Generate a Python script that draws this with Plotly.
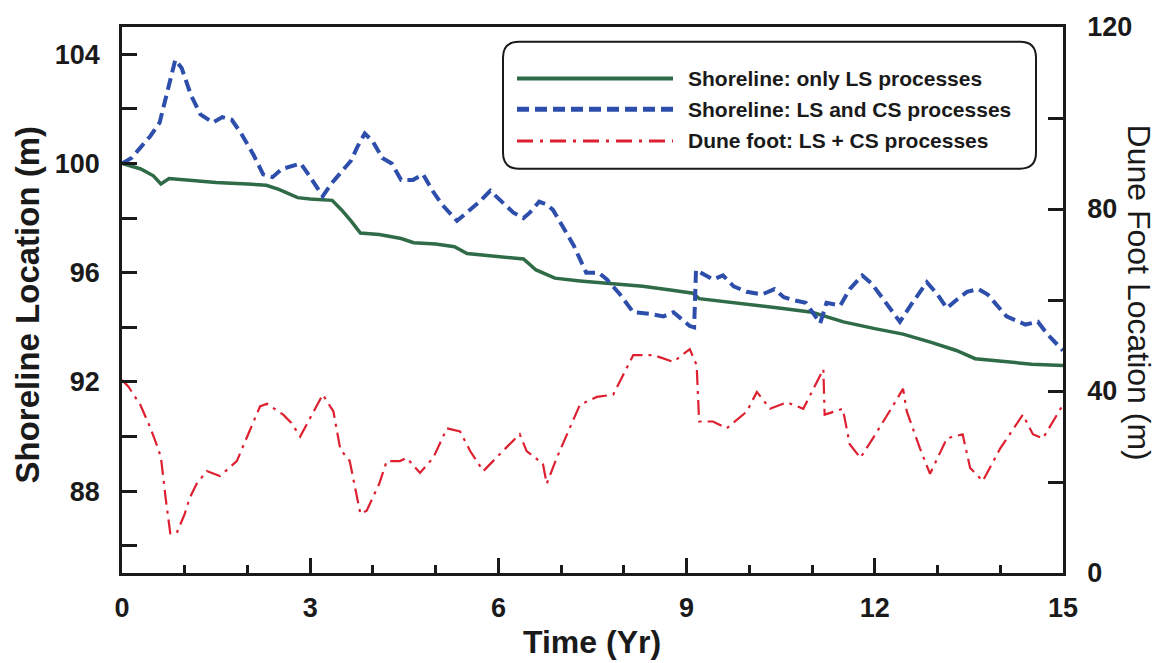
import plotly.graph_objects as go

# ---------------- data ----------------
t_ls = [0.0, 0.3, 0.5, 0.62, 0.75, 1.0, 1.5, 2.0, 2.3, 2.5, 2.8, 3.0, 3.35, 3.5, 3.65, 3.8,
        4.1, 4.45, 4.65, 5.0, 5.3, 5.5, 6.0, 6.4, 6.6, 6.9, 7.3, 7.8, 8.3, 8.8, 9.1, 9.2,
        9.6, 10.0, 10.5, 11.0, 11.5, 12.0, 12.45, 12.9, 13.3, 13.6, 14.0, 14.5, 15.0]
shore_ls = [100.0, 99.8, 99.55, 99.25, 99.45, 99.4, 99.3, 99.25, 99.2, 99.05, 98.75, 98.7, 98.65,
            98.3, 97.9, 97.45, 97.4, 97.25, 97.1, 97.05, 96.95, 96.7, 96.6, 96.5, 96.1, 95.8,
            95.7, 95.6, 95.5, 95.35, 95.25, 95.05, 94.95, 94.85, 94.7, 94.55, 94.2, 93.95,
            93.75, 93.45, 93.15, 92.85, 92.75, 92.65, 92.6]

t_cs = [0.0, 0.15, 0.3, 0.45, 0.6, 0.72, 0.85, 0.95, 1.1, 1.25, 1.45, 1.6, 1.75, 1.9, 2.1, 2.25,
        2.4, 2.55, 2.7, 2.85, 3.0, 3.2, 3.35, 3.5, 3.65, 3.75, 3.87, 4.0, 4.15, 4.3, 4.45, 4.64,
        4.8, 4.95, 5.1, 5.34, 5.5, 5.7, 5.87, 6.05, 6.24, 6.4, 6.5, 6.65, 6.77, 6.87, 7.05,
        7.2, 7.4, 7.6, 7.73, 7.94, 8.15, 8.4, 8.63, 8.79, 9.05, 9.12, 9.15, 9.3, 9.42, 9.58,
        9.75, 9.96, 10.2, 10.4, 10.55, 10.7, 10.9, 11.13, 11.23, 11.45, 11.6, 11.8, 11.95,
        12.08, 12.4, 12.6, 12.83, 13.0, 13.15, 13.3, 13.47, 13.65, 13.8, 14.1, 14.4, 14.6,
        14.75, 15.0]
shore_cs = [100.0, 100.2, 100.6, 101.0, 101.5, 102.6, 103.8, 103.5, 102.5, 101.8, 101.5, 101.7,
            101.6, 101.1, 100.3, 99.6, 99.5, 99.8, 99.9, 100.0, 99.5, 98.8, 99.3, 99.7, 100.1,
            100.6, 101.1, 100.8, 100.2, 100.0, 99.4, 99.4, 99.6, 99.0, 98.5, 97.9, 98.2, 98.6,
            99.0, 98.6, 98.2, 98.0, 98.2, 98.6, 98.5, 98.3, 97.6, 97.0, 96.0, 96.0, 95.75,
            95.2, 94.55, 94.5, 94.4, 94.55, 94.05, 94.0, 96.1, 95.9, 95.75, 95.9, 95.5, 95.3,
            95.2, 95.4, 95.1, 95.0, 94.9, 94.15, 94.9, 94.8, 95.4, 95.9, 95.6, 95.2, 94.2,
            94.9, 95.65, 95.2, 94.7, 95.0, 95.3, 95.4, 95.2, 94.4, 94.1, 94.2, 93.75, 93.15]

t_dune = [0.0, 0.1, 0.29, 0.45, 0.55, 0.62, 0.7, 0.77, 0.87, 1.0, 1.08, 1.19, 1.35, 1.56, 1.83,
          2.09, 2.2, 2.31, 2.45, 2.57, 2.7, 2.84, 3.2, 3.37, 3.48, 3.63, 3.8, 3.9, 4.1, 4.22,
          4.43, 4.54, 4.75, 4.96, 5.18, 5.39, 5.55, 5.76, 6.07, 6.34, 6.45, 6.71, 6.77, 6.93,
          7.3, 7.57, 7.83, 8.15, 8.47, 8.79, 9.05, 9.16, 9.2, 9.42, 9.64, 9.96, 10.12, 10.33,
          10.6, 10.86, 11.18, 11.2, 11.49, 11.6, 11.77, 11.97, 12.3, 12.45, 12.51, 12.72,
          12.88, 13.15, 13.4, 13.52, 13.72, 14.0, 14.36, 14.52, 14.68, 15.0]
dune_foot = [42.4, 41.0, 37.0, 32.0, 28.3, 25.5, 16.0, 8.7, 8.7, 13.0, 16.5, 19.6, 22.4, 21.3,
             24.6, 33.3, 36.6, 37.2, 36.0, 34.8, 33.0, 30.0, 39.2, 35.5, 27.2, 24.6, 13.0, 13.7,
             19.6, 24.6, 24.6, 25.3, 22.0, 25.3, 31.8, 31.1, 26.8, 22.4, 26.8, 30.5, 26.8,
             24.0, 19.6, 25.3, 37.0, 38.7, 39.2, 47.9, 47.9, 46.4, 49.2, 45.7, 33.3, 33.3,
             31.8, 35.5, 39.8, 36.1, 37.5, 36.1, 44.8, 34.8, 36.1, 28.3, 25.3, 29.6, 37.0,
             40.5, 35.5, 27.4, 21.8, 29.6, 30.5, 23.1, 20.2, 27.4, 34.8, 30.5, 29.6, 37.0]

names = ["Shoreline: only LS processes", "Shoreline: LS and CS processes",
         "Dune foot: LS + CS processes"]
x_ticks = [0, 3, 6, 9, 12, 15]
y_ticks = [88, 92, 96, 100, 104]
y2_ticks = [0, 40, 80, 120]

GREEN = "#2f6b47"
BLUE = "#2d4fab"
RED = "#dd1f30"
FONT = "Liberation Sans"
INK = "#1a1a1a"

# ---------------- figure ----------------
fig = go.Figure()
fig.add_trace(go.Scatter(x=t_ls, y=shore_ls, name=names[0], mode="lines",
                         line=dict(color=GREEN, width=3.5)))
fig.add_trace(go.Scatter(x=t_cs, y=shore_cs, name=names[1], mode="lines",
                         line=dict(color=BLUE, width=4, dash="12px,6px")))
fig.add_trace(go.Scatter(x=t_dune, y=dune_foot, name=names[2], mode="lines", yaxis="y2",
                         line=dict(color=RED, width=2.2, dash="15px,6px,3px,6px")))

L, R, T, B = 122, 106, 22, 90
W, H = 1169, 663
PW, PH = W - L - R, H - T - B


def px(x):
    return (x - L) / PW


def py(y):
    return (H - B - y) / PH


tickfont = dict(family=FONT, size=27, color=INK, weight="bold")
ax_common = dict(ticks="inside", ticklen=15, tickwidth=2.5, tickcolor=INK,
                 showline=True, linewidth=2.5, linecolor=INK,
                 showgrid=False, zeroline=False, tickfont=tickfont)
fig.update_layout(
    width=W, height=H, margin=dict(l=L, r=R, t=T, b=B),
    paper_bgcolor="white", plot_bgcolor="white", showlegend=False,
    xaxis=dict(range=[0, 15], tickvals=x_ticks, mirror=True, ticklabelstandoff=9,
               minor=dict(dtick=1, ticks="inside", ticklen=8, tickwidth=2.5, tickcolor=INK),
               **ax_common),
    yaxis=dict(range=[85, 105], tickvals=y_ticks, ticklabelstandoff=14,
               minor=dict(dtick=2, ticks="inside", ticklen=15, tickwidth=2.5, tickcolor=INK),
               **ax_common),
    yaxis2=dict(range=[0, 120], tickvals=y2_ticks, overlaying="y", side="right",
                ticklabelstandoff=16,
                minor=dict(dtick=20, ticks="inside", ticklen=15, tickwidth=2.5, tickcolor=INK),
                **ax_common),
)

# axis titles
fig.add_annotation(text="Shoreline Location (m)", xref="paper", yref="paper",
                   x=px(27), y=py(302), showarrow=False, textangle=-90,
                   xanchor="center", yanchor="middle",
                   font=dict(family=FONT, size=33, color=INK, weight="bold"))
fig.add_annotation(text="Dune Foot Location (m)", xref="paper", yref="paper",
                   x=px(1139), y=py(290), showarrow=False, textangle=90,
                   xanchor="center", yanchor="middle",
                   font=dict(family=FONT, size=32, color=INK))
fig.add_annotation(text="Time (Yr)", xref="paper", yref="paper",
                   x=px(592), y=py(643), showarrow=False,
                   xanchor="center", yanchor="middle",
                   font=dict(family=FONT, size=32, color=INK, weight="bold"))

# legend box (rounded)
x0, x1, y0, y1, r = 503, 1036, 37, 165, 16
pts = [("M", x0 + r, y0), ("L", x1 - r, y0), ("Q", x1, y0, x1, y0 + r), ("L", x1, y1 - r),
       ("Q", x1, y1, x1 - r, y1), ("L", x0 + r, y1), ("Q", x0, y1, x0, y1 - r),
       ("L", x0, y0 + r), ("Q", x0, y0, x0 + r, y0)]
path = ""
for p in pts:
    coords = p[1:]
    segs = [f"{px(coords[i]):.5f},{py(coords[i + 1]):.5f}" for i in range(0, len(coords), 2)]
    path += p[0] + " ".join(segs)
path += "Z"
fig.add_shape(type="path", path=path, xref="paper", yref="paper",
              line=dict(color=INK, width=2), fillcolor="white", layer="above")

styles = [dict(color=GREEN, width=4), dict(color=BLUE, width=5, dash="12px,6px"),
          dict(color=RED, width=3, dash="16px,7px,3px,7px")]
rows = [74, 105, 137]
for nm, st, yy in zip(names, styles, rows):
    fig.add_shape(type="line", xref="paper", yref="paper", x0=px(517), x1=px(673),
                  y0=py(yy), y1=py(yy), line=st, layer="above")
    fig.add_annotation(text=nm, xref="paper", yref="paper", x=px(686), y=py(yy),
                       showarrow=False, xanchor="left", yanchor="middle",
                       font=dict(family=FONT, size=21, color=INK, weight="bold"))

fig.write_html("out.html", config={"displayModeBar": False},
               post_script="document.body.style.margin='0';document.body.style.overflow='hidden';")
